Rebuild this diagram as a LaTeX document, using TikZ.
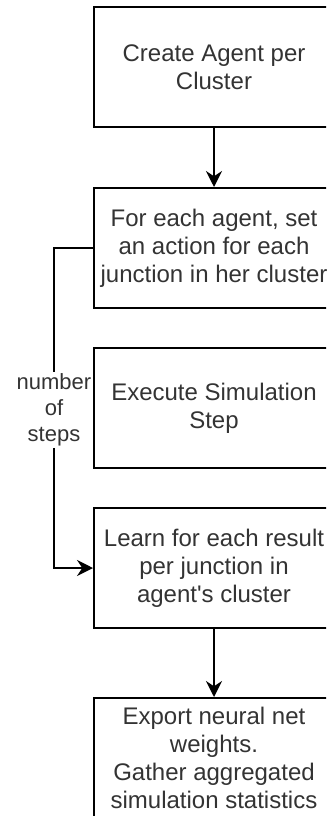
\documentclass[tikz,border=0pt]{standalone}
\usepackage{fontspec}
\setmainfont{Liberation Sans}
\usetikzlibrary{arrows.meta}

\begin{document}
\begin{tikzpicture}[x=0.75pt,y=0.75pt,yscale=-1,xscale=1,
  stepbox/.style={draw, line width=1.5pt, minimum width=180pt, minimum height=90pt, inner sep=0pt, align=center, text=black!80, font=\fontsize{18}{21}\selectfont},
  looplabel/.style={inner sep=1pt, align=center, text=black!80, font=\fontsize{16.5}{19.5}\selectfont},
  flow/.style={line width=1.5pt, -{Stealth[length=12pt,width=12pt,inset=4pt]}},
  loopline/.style={line width=1.5pt}]
%set diagram frame: 326 x 816, boxes run past the right edge
\useasboundingbox (0,0) rectangle (326,816);
\clip (0,0) rectangle (326,816);

%Shape: Rectangle [create]
\node [stepbox] (create) at (214,67.5) {Create Agent per\\Cluster};
%Shape: Rectangle [assign]
\node [stepbox] (assign) at (214,248) {For each agent, set\\an action for each\\junction in her cluster};
%Shape: Rectangle [simstep]
\node [stepbox] (simstep) at (214,408) {Execute Simulation\\Step};
%Shape: Rectangle [learn]
\node [stepbox] (learn) at (214,568) {Learn for each result\\per junction in\\agent\textquotesingle s cluster};
%Shape: Rectangle [export]
\node [stepbox] (export) at (214,758) {Export neural net\\weights.\\Gather aggregated\\simulation statistics};

% Text Node
\node [looplabel] (steps) at (54,410) {number\\of\\steps};

\draw [flow] (create) -- (assign);
\draw [flow] (learn) -- (export);
\draw [loopline] (assign.west) -| (steps.north);
\draw [flow] (steps.south) |- (learn.west);

\end{tikzpicture}
\end{document}
